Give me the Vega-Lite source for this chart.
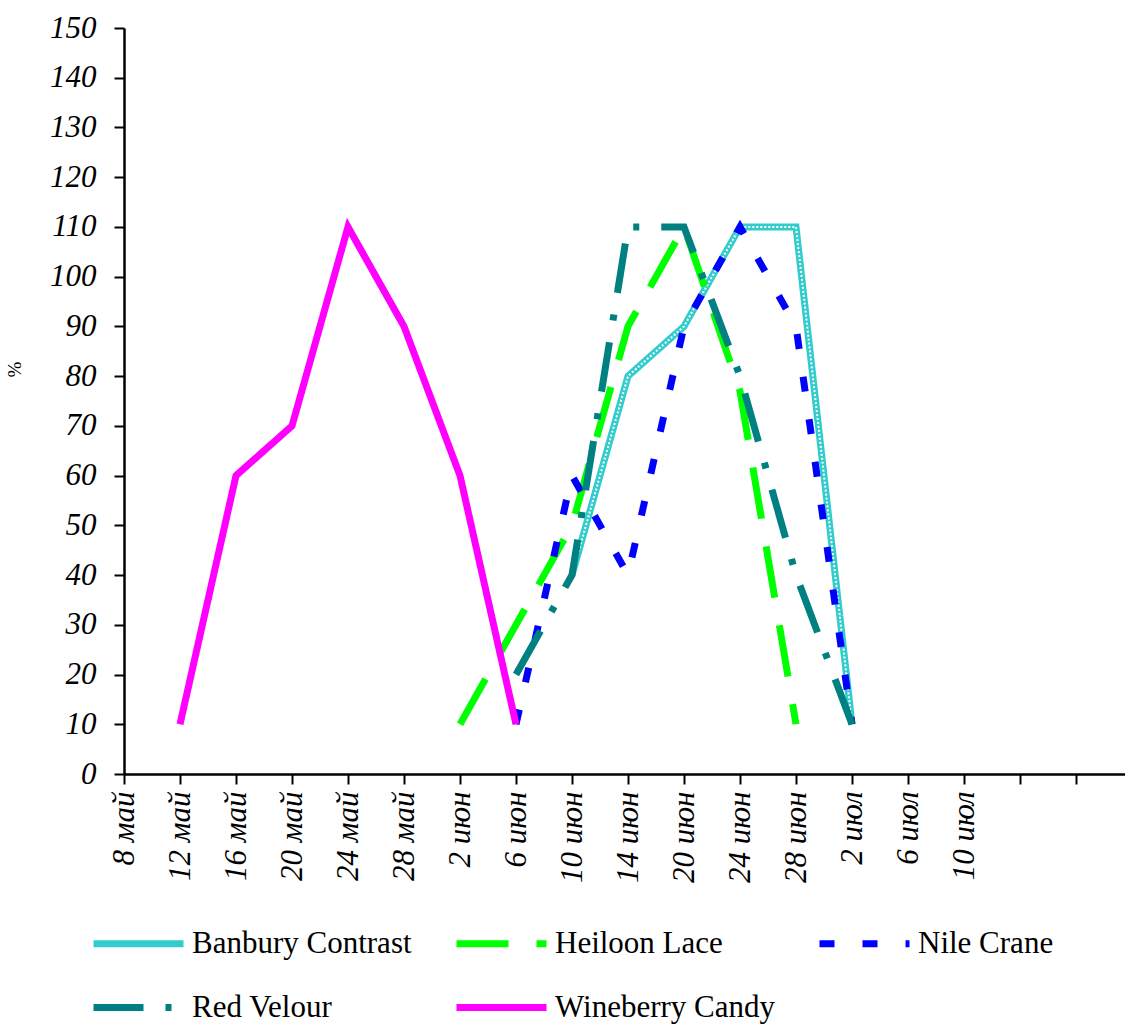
{
  "$schema": "https://vega.github.io/schema/vega-lite/v6.json",
  "autosize": {"type": "none"},
  "width": 1001,
  "height": 746,
  "padding": {"left": 124, "top": 28, "right": 0, "bottom": 253},
  "background": "white",
  "config": {
    "view": {"stroke": null},
    "font": "Liberation Serif"
  },
  "data": {
    "values": [
      {"series": "Banbury Contrast", "date": "10 июн", "value": 40},
      {"series": "Banbury Contrast", "date": "14 июн", "value": 80},
      {"series": "Banbury Contrast", "date": "20 июн", "value": 90},
      {"series": "Banbury Contrast", "date": "24 июн", "value": 110},
      {"series": "Banbury Contrast", "date": "28 июн", "value": 110},
      {"series": "Banbury Contrast", "date": "2 июл", "value": 10},
      {"series": "Heiloon Lace", "date": "2 июн", "value": 10},
      {"series": "Heiloon Lace", "date": "6 июн", "value": 30},
      {"series": "Heiloon Lace", "date": "10 июн", "value": 50},
      {"series": "Heiloon Lace", "date": "14 июн", "value": 90},
      {"series": "Heiloon Lace", "date": "20 июн", "value": 110},
      {"series": "Heiloon Lace", "date": "24 июн", "value": 77},
      {"series": "Heiloon Lace", "date": "28 июн", "value": 10},
      {"series": "Nile Crane", "date": "6 июн", "value": 10},
      {"series": "Nile Crane", "date": "10 июн", "value": 60},
      {"series": "Nile Crane", "date": "14 июн", "value": 40},
      {"series": "Nile Crane", "date": "20 июн", "value": 90},
      {"series": "Nile Crane", "date": "24 июн", "value": 110},
      {"series": "Nile Crane", "date": "28 июн", "value": 90},
      {"series": "Nile Crane", "date": "2 июл", "value": 10},
      {"series": "Red Velour", "date": "6 июн", "value": 20},
      {"series": "Red Velour", "date": "10 июн", "value": 40},
      {"series": "Red Velour", "date": "14 июн", "value": 110},
      {"series": "Red Velour", "date": "20 июн", "value": 110},
      {"series": "Red Velour", "date": "24 июн", "value": 80},
      {"series": "Red Velour", "date": "28 июн", "value": 40},
      {"series": "Red Velour", "date": "2 июл", "value": 10},
      {"series": "Wineberry Candy", "date": "12 май", "value": 10},
      {"series": "Wineberry Candy", "date": "16 май", "value": 60},
      {"series": "Wineberry Candy", "date": "20 май", "value": 70},
      {"series": "Wineberry Candy", "date": "24 май", "value": 110},
      {"series": "Wineberry Candy", "date": "28 май", "value": 90},
      {"series": "Wineberry Candy", "date": "2 июн", "value": 60},
      {"series": "Wineberry Candy", "date": "6 июн", "value": 10}
    ]
  },
  "encoding": {
    "x": {
      "field": "date",
      "type": "ordinal",
      "sort": null,
      "scale": {
        "type": "point",
        "domain": ["8 май", "12 май", "16 май", "20 май", "24 май", "28 май", "2 июн", "6 июн", "10 июн", "14 июн", "20 июн", "24 июн", "28 июн", "2 июл", "6 июл", "10 июл", " ", "  ", "   "],
        "range": [0, 1008],
        "padding": 0
      },
      "axis": {
        "title": null,
        "labelAngle": -90,
        "labelFont": "Liberation Serif",
        "labelFontStyle": "italic",
        "labelFontSize": 31,
        "labelColor": "black",
        "labelPadding": 7,
        "tickSize": 10,
        "tickWidth": 2,
        "tickColor": "black",
        "domainColor": "black",
        "domainWidth": 2.5,
        "grid": false,
        "labelOverlap": false
      }
    },
    "y": {
      "field": "value",
      "type": "quantitative",
      "scale": {"domain": [0, 150], "nice": false, "zero": true},
      "axis": {
        "title": "%",
        "titleFont": "Liberation Serif",
        "titleFontSize": 19,
        "titleFontWeight": "normal",
        "titleColor": "black",
        "titleAngle": -90,
        "titleX": -100,
        "titleY": 341,
        "values": [0, 10, 20, 30, 40, 50, 60, 70, 80, 90, 100, 110, 120, 130, 140, 150],
        "labelFont": "Liberation Serif",
        "labelFontStyle": "italic",
        "labelFontSize": 31,
        "labelColor": "black",
        "labelPadding": 18,
        "tickSize": 10,
        "tickWidth": 2,
        "tickColor": "black",
        "domainColor": "black",
        "domainWidth": 2.5,
        "grid": false
      }
    }
  },
  "layer": [
    {
      "transform": [{"filter": "datum.series === 'Banbury Contrast'"}],
      "mark": {"type": "line", "strokeWidth": 7, "strokeJoin": "miter", "strokeCap": "butt"},
      "encoding": {
        "color": {"field": "series", "type": "nominal"},
        "strokeDash": {"field": "series", "type": "nominal"}
      }
    },
    {
      "transform": [{"filter": "datum.series === 'Banbury Contrast'"}],
      "mark": {"type": "line", "strokeWidth": 2, "color": "white", "strokeDash": [2, 2], "strokeJoin": "miter"},
      "encoding": {"detail": {"field": "series"}}
    },
    {
      "transform": [{"filter": "datum.series !== 'Banbury Contrast'"}],
      "mark": {"type": "line", "strokeWidth": 7, "strokeJoin": "miter", "strokeCap": "butt"},
      "encoding": {
        "color": {
          "field": "series",
          "type": "nominal",
          "scale": {
            "domain": ["Banbury Contrast", "Heiloon Lace", "Nile Crane", "Red Velour", "Wineberry Candy"],
            "range": ["#33CCCC", "#00FF00", "#0000FF", "#008080", "#FF00FF"]
          },
          "legend": {
            "title": null,
            "orient": "none",
            "legendX": -34,
            "legendY": 867,
            "direction": "horizontal",
            "columns": 3,
            "gridAlign": "each",
            "columnPadding": 30,
            "rowPadding": -31,
            "symbolType": "stroke",
            "symbolSize": 8100,
            "symbolStrokeWidth": 7,
            "labelFont": "Liberation Serif",
            "labelFontSize": 31,
            "labelColor": "black",
            "labelOffset": 5,
            "labelLimit": 400
          }
        },
        "strokeDash": {
          "field": "series",
          "type": "nominal",
          "scale": {
            "domain": ["Banbury Contrast", "Heiloon Lace", "Nile Crane", "Red Velour", "Wineberry Candy"],
            "range": [[1, 0], [52, 28], [15, 28], [50, 22, 6, 22], [1, 0]]
          }
        }
      }
    }
  ]
}
